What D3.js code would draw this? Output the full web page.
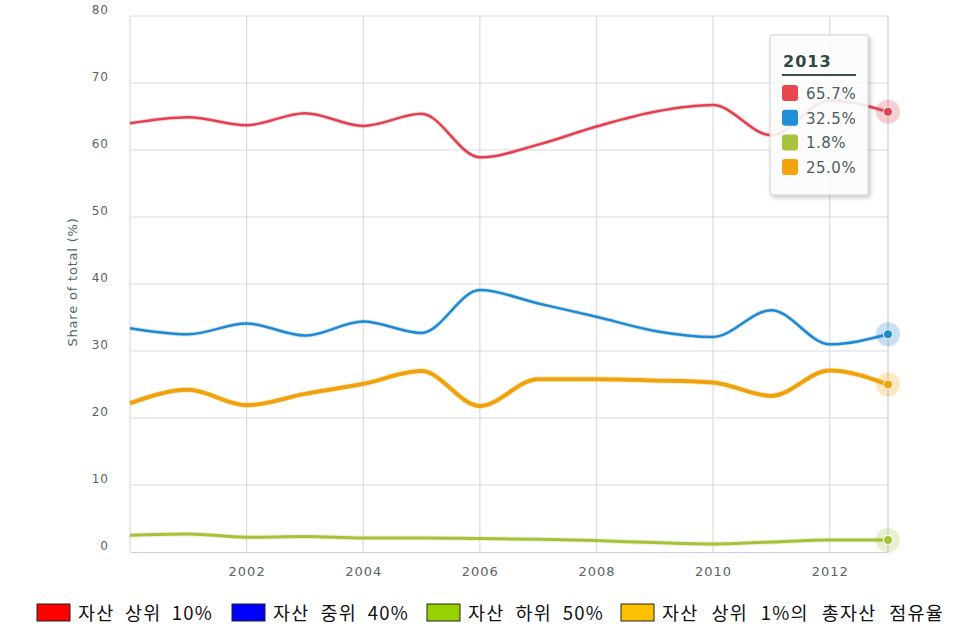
<!DOCTYPE html>
<html><head><meta charset="utf-8">
<script src="https://cdn.jsdelivr.net/npm/d3@7/dist/d3.min.js"></script>
<style>
html,body{margin:0;padding:0;background:#fff;}
svg{display:block;}
</style></head>
<body><svg id="c" width="970" height="633"></svg>
<script>
const years = [2000,2001,2002,2003,2004,2005,2006,2007,2008,2009,2010,2011,2012,2013];
const top10    = [64.0,64.9,63.7,65.5,63.6,65.4,58.9,60.8,63.5,65.7,66.7,62.2,67.4,65.7];
const middle40 = [33.4,32.5,34.1,32.3,34.4,32.7,39.1,37.1,35.1,33.0,32.1,36.1,31.0,32.5];
const bottom50 = [2.5,2.7,2.2,2.3,2.1,2.1,2.0,1.9,1.7,1.4,1.2,1.5,1.8,1.8];
const top1     = [22.2,24.2,21.9,23.6,25.1,27.0,21.8,25.8,25.8,25.6,25.3,23.3,27.1,25.0];
const yTicks = [0,10,20,30,40,50,60,70,80];
const xTicks = [2002,2004,2006,2008,2010,2012];
const gridX = [2000,2002,2004,2006,2008,2010,2012];
const legendLabels = ["자산 상위 10%","자산 중위 40%","자산 하위 50%","자산 상위 1%의 총자산 점유율"];
const tooltipYear = "2013";

const series = [
  {name:"top10", values:top10, color:"#e0404f", width:2.5},
  {name:"middle40", values:middle40, color:"#1f88cf", width:2.5},
  {name:"bottom50", values:bottom50, color:"#a6c23a", width:3},
  {name:"top1", values:top1, color:"#f0a20c", width:4}
];
const legendColors = ["#ff0000","#0000ff","#99d100","#ffc000"];
const tipColors = ["#e8454f","#1f8fd6","#a8c23d","#f2a20d"];

const svg = d3.select("#c");
const x = d3.scaleLinear().domain([2000,2013]).range([130,888]);
const y = d3.scaleLinear().domain([0,80]).range([552,16]);

const defs = svg.append("defs");
const f = defs.append("filter").attr("id","sh").attr("x","-20%").attr("y","-20%").attr("width","150%").attr("height","150%");
f.append("feDropShadow").attr("dx",2).attr("dy",2).attr("stdDeviation",2).attr("flood-color","#000").attr("flood-opacity",0.25);

// horizontal grid
svg.append("g").selectAll("line").data(yTicks.filter(d=>d>0)).join("line")
  .attr("x1",x(2000)).attr("x2",x(2013)).attr("y1",d=>y(d)).attr("y2",d=>y(d))
  .attr("stroke","#dcdcdc").attr("stroke-width",1.2);
// vertical grid
svg.append("g").selectAll("line").data(gridX).join("line")
  .attr("x1",d=>x(d)).attr("x2",d=>x(d)).attr("y1",y(80)).attr("y2",y(0))
  .attr("stroke","#dcdcdc").attr("stroke-width",1.2);
// crosshair at 2013
svg.append("line").attr("x1",x(2013)).attr("x2",x(2013)).attr("y1",y(80)).attr("y2",y(0)+1)
  .attr("stroke","#c9cdd6").attr("stroke-width",1.2);

// y axis labels
const yAxis = d3.axisLeft(y).tickValues(yTicks).tickSize(0).tickPadding(21).tickFormat(d3.format("d"));
const gy = svg.append("g").attr("transform",`translate(${x(2000)},0)`).call(yAxis);
gy.select(".domain").remove();
gy.selectAll("text").attr("dy","-0.2em").attr("fill","#5a6464")
  .style("font-family","'DejaVu Sans',sans-serif").style("font-size","12px").style("letter-spacing","1px");

// x axis
const xAxis = d3.axisBottom(x).tickValues(xTicks).tickSize(0).tickPadding(15).tickFormat(d3.format("d"));
const gx = svg.append("g").attr("transform",`translate(0,${y(0)})`).call(xAxis);
gx.select(".domain").attr("stroke","#c6d2e4").attr("stroke-width",1.2);
gx.selectAll("text").attr("fill","#5a6464")
  .style("font-family","'DejaVu Sans',sans-serif").style("font-size","13px").style("letter-spacing","1px");

// y title
svg.append("text").attr("transform",`translate(77,282) rotate(-90)`)
  .attr("text-anchor","middle").attr("fill","#4f6767")
  .style("font-family","'DejaVu Sans',sans-serif").style("font-size","13px").style("letter-spacing","0.8px")
  .text("Share of total (%)");

// lines
const line = d3.line().x((d,i)=>x(years[i])).y(d=>y(d)).curve(d3.curveMonotoneX);
series.forEach(s=>{
  svg.append("path").datum(s.values).attr("d",line).attr("fill","none")
    .attr("stroke",s.color).attr("stroke-opacity",0.2).attr("stroke-width",s.width+2)
    .attr("stroke-linejoin","round");
  svg.append("path").datum(s.values).attr("d",line).attr("fill","none")
    .attr("stroke",s.color).attr("stroke-width",s.width).attr("stroke-linejoin","round");
});
// markers at last point
series.forEach(s=>{
  const v = s.values[s.values.length-1];
  svg.append("circle").attr("cx",x(2013)).attr("cy",y(v)).attr("r",12)
    .attr("fill",s.color).attr("fill-opacity",0.25);
  svg.append("circle").attr("cx",x(2013)).attr("cy",y(v)).attr("r",4.5)
    .attr("fill",s.color).attr("stroke","#fff").attr("stroke-width",1);
});

// tooltip
const tip = svg.append("g").attr("transform","translate(770,35)");
tip.append("rect").attr("width",98).attr("height",160).attr("rx",2)
  .attr("fill","rgba(255,255,255,0.87)").attr("stroke","#d0d0d0").attr("filter","url(#sh)");
tip.append("text").attr("x",13).attr("y",32).text(tooltipYear)
  .attr("fill","#2d4a47").style("font-family","'DejaVu Sans',sans-serif")
  .style("font-size","16px").style("font-weight","bold").style("letter-spacing","1px");
tip.append("line").attr("x1",12).attr("x2",86).attr("y1",40).attr("y2",40)
  .attr("stroke","#3a5150").attr("stroke-width",2);
series.forEach((s,i)=>{
  const v = s.values[s.values.length-1];
  const ry = 50 + i*24.7;
  tip.append("rect").attr("x",12).attr("y",ry).attr("width",16).attr("height",16).attr("rx",3)
    .attr("fill",tipColors[i]);
  tip.append("text").attr("x",36).attr("y",ry+14).text(v.toFixed(1)+"%")
    .attr("fill","#4c5c5c").style("font-family","'DejaVu Sans',sans-serif")
    .style("font-size","15px").style("letter-spacing","0.5px");
});

// legend
const legX = [37,232,427,621];
const legW = [135,136,136,282];
legendLabels.forEach((t,i)=>{
  svg.append("rect").attr("x",legX[i]).attr("y",604).attr("width",33).attr("height",17)
    .attr("fill",legendColors[i]).attr("stroke","#222").attr("stroke-width",1);
  const tx = svg.append("text").attr("x",legX[i]+41).attr("y",620).text(t)
    .attr("fill","#111").style("font-family","'Noto Sans CJK KR',sans-serif")
    .style("font-size","18.5px").style("letter-spacing","1.2px");
  const natural = tx.node().getComputedTextLength();
  const spaces = t.split(" ").length - 1;
  const ws = Math.max(0, (legW[i] - natural) / spaces);
  tx.style("word-spacing", ws + "px");
});
</script>
</body></html>
